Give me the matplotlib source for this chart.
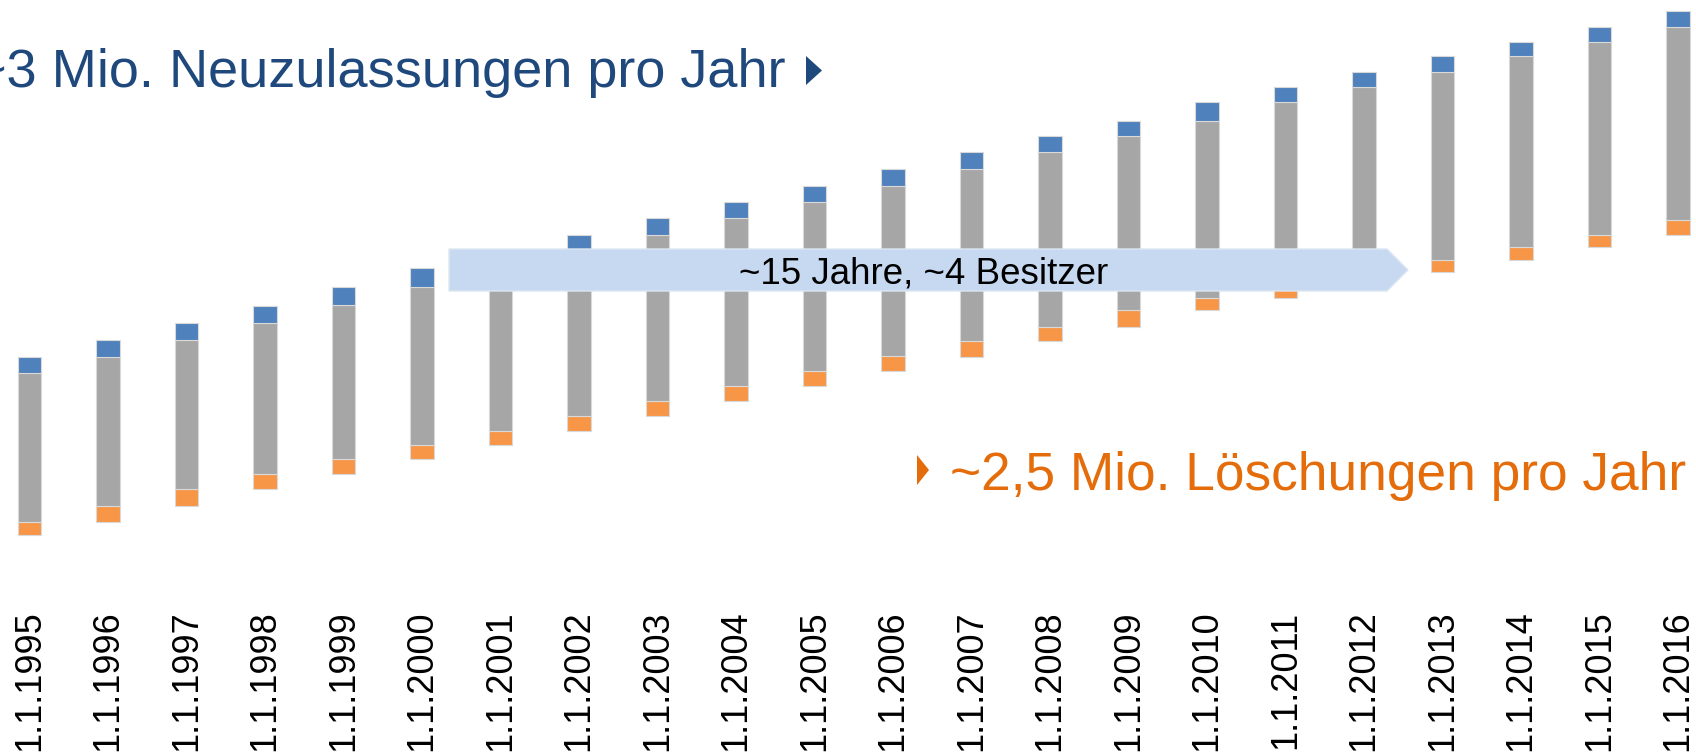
import matplotlib
matplotlib.use("Agg")
import matplotlib.pyplot as plt
from matplotlib.patches import Polygon

plt.rcParams['font.family'] = ['Liberation Sans', 'DejaVu Sans']

# ---- data (Mio. Fahrzeuge) ----
labels = ["1.1.%d" % y for y in range(1995, 2017)]
base = [12.14, 14.69, 17.69, 20.77, 23.70, 26.40, 29.02, 31.76, 34.52, 37.28, 40.21,
        42.91, 45.68, 48.54, 51.28, 54.47, 56.60, 59.10, 61.48, 63.79, 66.17, 68.48]
loeschungen = [2.55, 3.00, 3.08, 2.93, 2.70, 2.63, 2.74, 2.76, 2.76, 2.93, 2.70,
               2.78, 2.85, 2.74, 3.19, 2.14, 2.50, 2.38, 2.31, 2.38, 2.31, 2.81]
bestand = [27.90, 27.90, 27.95, 28.27, 28.86, 29.70, 30.53, 30.96, 31.26, 31.46, 31.76,
           31.99, 32.27, 32.78, 32.53, 33.26, 34.33, 34.77, 35.27, 35.80, 36.27, 36.27]
neuzulassungen = [3.00, 3.13, 3.19, 3.25, 3.38, 3.56, 3.19, 3.00, 3.08, 2.95, 3.00,
                  3.13, 3.25, 2.95, 2.87, 3.56, 2.81, 2.81, 2.91, 2.78, 2.81, 3.00]

C_ORANGE = "#F79646"
C_GRAY = "#A6A6A6"
C_BLUE = "#4F81BD"
C_EDGE = "#D9D9D9"

W, H = 1696, 755
fig = plt.figure(figsize=(W / 100, H / 100), dpi=100)
ax = fig.add_axes([0, (H - 600) / H, 1, 600 / H])

x = list(range(len(labels)))
bw = 0.293
mid = [b + l for b, l in zip(base, loeschungen)]
top = [m + g for m, g in zip(mid, bestand)]
ax.bar(x, loeschungen, bottom=base, width=bw, color=C_ORANGE, edgecolor=C_EDGE, linewidth=0.8, zorder=2)
ax.bar(x, bestand, bottom=mid, width=bw, color=C_GRAY, edgecolor=C_EDGE, linewidth=0.8, zorder=2)
ax.bar(x, neuzulassungen, bottom=top, width=bw, color=C_BLUE, edgecolor=C_EDGE, linewidth=0.8, zorder=2)

ax.set_xlim(-29.5 / 78.5, (W - 29.5) / 78.5)
ax.set_ylim(0, 600 / 5.33)
ax.set_xticks(x)
ax.set_xticklabels(labels, rotation=90, fontsize=26, va='top', ha='center')
ax.tick_params(axis='x', length=0, pad=7.5)
ax.set_yticks([])
for s in ax.spines.values():
    s.set_visible(False)


def fp(px, py):
    return (px / W, 1 - py / H)


# arrow (chevron)
arrow_pts = [fp(449, 249), fp(1387, 249), fp(1408, 270), fp(1387, 291), fp(449, 291)]
ax.add_patch(Polygon(arrow_pts, closed=True, transform=fig.transFigure, clip_on=False,
                     facecolor="#C6D9F0", edgecolor="#DCE6F2", linewidth=1, zorder=5))
ax.text(*fp(924, 284), "~15 Jahre, ~4 Besitzer", transform=fig.transFigure, fontsize=26.5,
        ha='center', va='baseline', color='black', zorder=6)

# annotations
ax.text(*fp(786, 86.5), "~3 Mio. Neuzulassungen pro Jahr", transform=fig.transFigure,
        fontsize=39, ha='right', va='baseline', color="#1F497D", zorder=6)
ax.add_patch(Polygon([fp(806, 56), fp(822, 70.5), fp(806, 85)], closed=True,
                     transform=fig.transFigure, clip_on=False, facecolor="#1F497D",
                     edgecolor='none', zorder=6))

ax.text(*fp(1686, 490), "~2,5 Mio. Löschungen pro Jahr", transform=fig.transFigure,
        fontsize=38.3, ha='right', va='baseline', color="#E46C0A", zorder=6)
ax.add_patch(Polygon([fp(917, 455), fp(929, 470), fp(917, 485)], closed=True,
                     transform=fig.transFigure, clip_on=False, facecolor="#E46C0A",
                     edgecolor='none', zorder=6))

fig.savefig("out.png", dpi=100)
